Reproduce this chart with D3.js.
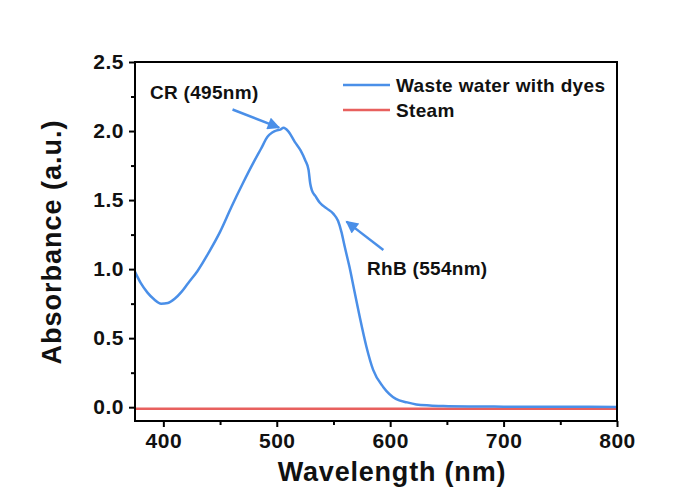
<!DOCTYPE html>
<html>
<head>
<meta charset="utf-8">
<style>
body { margin:0; background:#ffffff; }
text { font-family: "Liberation Sans", Arial, sans-serif; font-weight: bold; }
</style>
</head>
<body>
<div id="chart"></div>

<script src="https://d3js.org/d3.v7.min.js" charset="utf-8"></script>

<script>

// wavelengths (nm) and absorbance
var waveDyes = [375, 380, 386, 392, 398, 404, 410, 416, 422, 430, 440, 450, 460, 470, 480, 486, 492, 496, 500, 503, 506, 510, 516, 521, 525, 528, 529.5, 531, 534, 538, 544, 550, 554, 557, 560, 564, 568, 573, 579, 585, 594, 605, 615, 623, 635, 647, 670, 700, 750, 800];
var absDyes  = [0.98, 0.90, 0.83, 0.78, 0.75, 0.755, 0.785, 0.835, 0.90, 0.985, 1.12, 1.27, 1.45, 1.62, 1.78, 1.87, 1.96, 1.99, 2.005, 2.01, 2.023, 2.0, 1.92, 1.86, 1.79, 1.72, 1.62, 1.57, 1.53, 1.48, 1.44, 1.40, 1.35, 1.27, 1.16, 1.02, 0.86, 0.66, 0.44, 0.27, 0.145, 0.06, 0.035, 0.02, 0.012, 0.008, 0.005, 0.004, 0.003, 0.002];

var waveSteam = [375, 500, 600, 700, 800];
var absSteam  = [-0.012, -0.012, -0.012, -0.012, -0.012];

var seriesNames = ["Waste water with dyes", "Steam"];
var xTicks = [400, 500, 600, 700, 800];
var xMinor = [450, 550, 650, 750];
var yTicks = [0.0, 0.5, 1.0, 1.5, 2.0, 2.5];
var yMinor = [0.25, 0.75, 1.25, 1.75, 2.25];

// annotations: label, arrow tail [nm, abs], arrow tip [nm, abs]
var noteLabels = ["CR (495nm)", "RhB (554nm)"];
var noteTails = [[461, 2.156], [594, 1.139]];
var noteTips  = [[502, 2.025], [561.5, 1.344]];

drawChart();

function drawChart()
{

var W = 699, H = 495;
var mLeft = 135, mRight = 617, mTop = 62, mBottom = 421;

var blue = "#4a8fe8";
var red = "#e8605e";

var svg = d3.select("#chart").append("svg")
          .attr("width", W)
          .attr("height", H);

var x = d3.scaleLinear().domain([375, 800]).range([mLeft, mRight]);
var y = d3.scaleLinear().domain([-0.1, 2.5]).range([mBottom, mTop]);

// arrow head
svg.append("defs").append("marker")
   .attr("id", "head")
   .attr("viewBox", "0 0 10 10")
   .attr("refX", 9).attr("refY", 5)
   .attr("markerWidth", 6).attr("markerHeight", 5)
   .attr("markerUnits", "strokeWidth")
   .attr("orient", "auto")
   .append("path")
   .attr("d", "M0,0 L10,5 L0,10 z")
   .style("fill", blue);

// the lines
var line = d3.line().curve(d3.curveMonotoneX)
   .x(function(d){ return x(d[0]); })
   .y(function(d){ return y(d[1]); });

svg.append("path")
   .datum(d3.zip(waveSteam, absSteam))
   .style("fill", "none")
   .style("stroke", red)
   .style("stroke-width", 2.5)
   .attr("d", line);

svg.append("path")
   .datum(d3.zip(waveDyes, absDyes))
   .style("fill", "none")
   .style("stroke", blue)
   .style("stroke-width", 2.5)
   .style("stroke-linejoin", "round")
   .attr("d", line);

// bottom axis
svg.append("g")
   .attr("transform", "translate(0," + mBottom + ")")
   .call(d3.axisBottom(x).tickValues(xTicks).tickSize(6).tickPadding(6).tickFormat(d3.format("d")));
svg.append("g")
   .attr("transform", "translate(0," + mBottom + ")")
   .call(d3.axisBottom(x).tickValues(xMinor).tickSize(4).tickFormat(""));

// left axis
svg.append("g")
   .attr("transform", "translate(" + mLeft + ",0)")
   .call(d3.axisLeft(y).tickValues(yTicks).tickSize(6).tickPadding(5).tickFormat(d3.format(".1f")));
svg.append("g")
   .attr("transform", "translate(" + mLeft + ",0)")
   .call(d3.axisLeft(y).tickValues(yMinor).tickSize(4).tickFormat(""));

svg.selectAll(".domain").remove();
svg.selectAll(".tick line").style("stroke", "#000").style("stroke-width", 2);
svg.selectAll(".tick text").style("font-size", "21px").style("letter-spacing", "0.5px").style("fill", "#111");

// frame
svg.append("rect")
   .attr("x", mLeft).attr("y", mTop)
   .attr("width", mRight - mLeft).attr("height", mBottom - mTop)
   .style("fill", "none")
   .style("stroke", "#000")
   .style("stroke-width", 2);

// axis titles
svg.append("text")
   .text("Wavelength (nm)")
   .style("font-size", "27px")
   .style("letter-spacing", "0.8px")
   .style("fill", "#111")
   .style("text-anchor", "middle")
   .attr("x", 392)
   .attr("y", 481);

svg.append("text")
   .text("Absorbance (a.u.)")
   .style("font-size", "27px")
   .style("letter-spacing", "1px")
   .style("fill", "#111")
   .style("text-anchor", "middle")
   .attr("transform", "translate(61," + 242 + ") rotate(-90)");

// legend
var legY = [85, 110];
var legColors = [blue, red];
seriesNames.forEach(function(name, i){
  svg.append("line")
     .attr("x1", 343).attr("x2", 390)
     .attr("y1", legY[i]).attr("y2", legY[i])
     .style("stroke", legColors[i])
     .style("stroke-width", 2.5);
  svg.append("text")
     .text(name)
     .style("font-size", "19px")
     .style("letter-spacing", "0.35px")
     .style("fill", "#111")
     .attr("x", 396)
     .attr("y", legY[i] + 7);
});

// annotations
var notePos = [[150, 99], [367, 275]];
noteLabels.forEach(function(lab, i){
  svg.append("line")
     .attr("x1", x(noteTails[i][0])).attr("y1", y(noteTails[i][1]))
     .attr("x2", x(noteTips[i][0])).attr("y2", y(noteTips[i][1]))
     .style("stroke", blue)
     .style("stroke-width", 2.5)
     .attr("marker-end", "url(#head)");
  svg.append("text")
     .text(lab)
     .style("font-size", "19px")
     .style("letter-spacing", "0.3px")
     .style("fill", "#111")
     .attr("x", notePos[i][0])
     .attr("y", notePos[i][1]);
});

}

</script>
</body>
</html>
